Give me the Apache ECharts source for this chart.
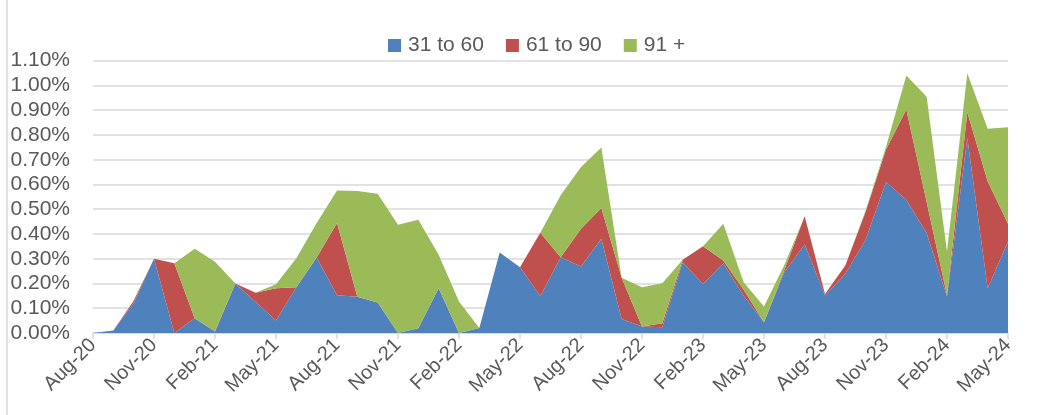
<!DOCTYPE html>
<html>
<head>
<meta charset="utf-8">
<script src="https://cdn.jsdelivr.net/npm/echarts@6/dist/echarts.min.js"></script>
<style>html,body{margin:0;padding:0;background:#fff;}#c{width:1041px;height:415px;}</style>
</head>
<body>
<div id="c"></div>
<script>
const months = ['Aug-20','Sep-20','Oct-20','Nov-20','Dec-20','Jan-21','Feb-21','Mar-21','Apr-21','May-21','Jun-21','Jul-21','Aug-21','Sep-21','Oct-21','Nov-21','Dec-21','Jan-22','Feb-22','Mar-22','Apr-22','May-22','Jun-22','Jul-22','Aug-22','Sep-22','Oct-22','Nov-22','Dec-22','Jan-23','Feb-23','Mar-23','Apr-23','May-23','Jun-23','Jul-23','Aug-23','Sep-23','Oct-23','Nov-23','Dec-23','Jan-24','Feb-24','Mar-24','Apr-24','May-24'];
const s31to60 = [0,0.01,0.12,0.30,0,0.06,0.005,0.20,0.125,0.05,0.185,0.305,0.153,0.146,0.123,0,0.019,0.181,0,0.02,0.325,0.266,0.148,0.306,0.269,0.381,0.057,0.026,0.023,0.286,0.198,0.282,0.15,0.043,0.245,0.358,0.151,0.239,0.377,0.61,0.538,0.403,0.147,0.788,0.181,0.37];
const s61to90 = [0,0,0.01,0,0.282,0,0.003,0,0.038,0.131,0,0,0.291,0,0,0,0,0,0,0,0,0,0.257,0,0.152,0.124,0.166,0,0.016,0.01,0.152,0.011,0.025,0,0.01,0.114,0.007,0.034,0.114,0.131,0.365,0.126,0.007,0.104,0.432,0.071];
const s91plus = [0,0,0,0,0,0.28,0.28,0,0,0.016,0.117,0.139,0.132,0.428,0.44,0.437,0.438,0.135,0.127,0,0,0,0,0.25,0.25,0.244,0,0.159,0.162,0,0,0.148,0.03,0.064,0.02,0,0,0,0.005,0.011,0.137,0.425,0.175,0.157,0.212,0.39];
const seriesNames = ['31 to 60','61 to 90','91 +'];
const colors = ['#4F81BD','#C0504D','#9BBB59'];

const font = 'Liberation Sans, Arial, sans-serif';
const chart = echarts.init(document.getElementById('c'), null, {renderer:'canvas'});
const mk = (name, data, color) => ({
  name, type:'line', stack:'total', data, symbol:'none', showSymbol:false,
  lineStyle:{width:0}, areaStyle:{color, opacity:1}, itemStyle:{color},
  emphasis:{disabled:true}
});
chart.setOption({
  animation:false,
  color: colors,
  legend:{
    top:30, left:383, itemWidth:13, itemHeight:13, itemGap:22, icon:'rect',
    textStyle:{fontFamily:font, fontSize:21, color:'#595959', padding:[0,0,0,2]},
    data: seriesNames
  },
  grid:{left:93, right:33, top:60.7, bottom:82, containLabel:false},
  xAxis:{
    type:'category', boundaryGap:false, data: months,
    axisLine:{lineStyle:{color:'#D9D9D9', width:1.5}},
    axisTick:{show:true, interval:2, length:6, lineStyle:{color:'#D9D9D9', width:1.5}},
    axisLabel:{interval:2, rotate:45, fontFamily:font, fontSize:20, color:'#595959', margin:9}
  },
  yAxis:{
    type:'value', min:0, max:1.1, interval:0.1,
    axisLine:{show:false}, axisTick:{show:false},
    splitLine:{lineStyle:{color:'#D9D9D9', width:1.5}},
    axisLabel:{fontFamily:font, fontSize:21, color:'#595959', margin:23,
      formatter: v => v.toFixed(2) + '%'}
  },
  graphic:[{type:'line', shape:{x1:7, y1:0, x2:7, y2:415}, style:{stroke:'#D9D9D9', lineWidth:1.5}}],
  series:[
    mk(seriesNames[0], s31to60, colors[0]),
    mk(seriesNames[1], s61to90, colors[1]),
    mk(seriesNames[2], s91plus, colors[2])
  ]
});
</script>
</body>
</html>
